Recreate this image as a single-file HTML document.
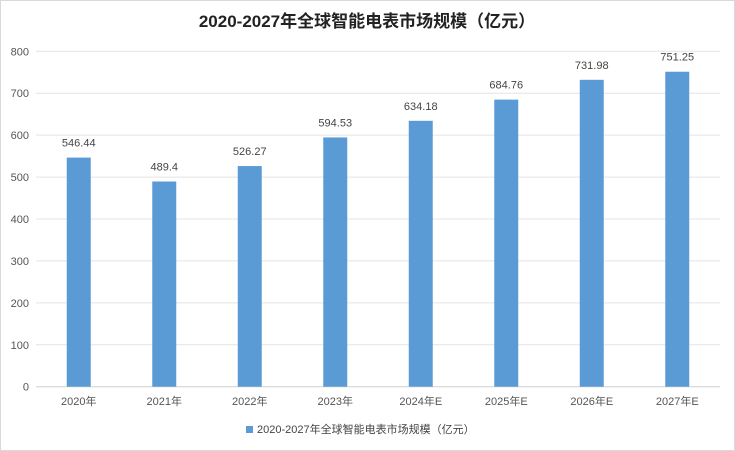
<!DOCTYPE html>
<html><head><meta charset="utf-8"><style>
body{margin:0;background:#fff}
svg{display:block;font-family:"Liberation Sans","Noto Sans CJK SC",sans-serif}
</style></head><body>
<svg width="735" height="451">
<rect x="0.5" y="0.5" width="734" height="450" fill="#fff" stroke="#d9d9d9"/>
<text x="367" y="27" text-anchor="middle" font-size="17" font-weight="bold" fill="#222">2020-2027年全球智能电表市场规模（亿元）</text>
<g id="grid"></g><g id="bars"></g><g id="xl"></g>
<rect x="246" y="426" width="7" height="7" fill="#5b9bd5"/>
<text x="257" y="433" font-size="11" fill="#444">2020-2027年全球智能电表市场规模（亿元）</text>
</svg>
<script>
const categories=["2020年","2021年","2022年","2023年","2024年E","2025年E","2026年E","2027年E"];
const values=[546.44,489.4,526.27,594.53,634.18,684.76,731.98,751.25];
const labels=["546.44","489.4","526.27","594.53","634.18","684.76","731.98","751.25"];
const yTicks=[0,100,200,300,400,500,600,700,800];
const NS="http://www.w3.org/2000/svg";
const L=36,R=720,Y0=386.7,Y1=51.3,YMAX=800;
const y=v=>Y0-(v/YMAX)*(Y0-Y1);
const bw=(R-L)/categories.length;
const x=i=>L+bw*(i+0.5);
function mk(t,a,p){const e=document.createElementNS(NS,t);for(const k in a)e.setAttribute(k,a[k]);p.appendChild(e);return e;}
const g=document.getElementById('grid'),b=document.getElementById('bars'),xl=document.getElementById('xl');
yTicks.forEach(t=>{
 const l=mk('line',{x1:L,x2:R,y1:y(t),y2:y(t),stroke:t===0?'#d0d0d0':'#e4e4e4','stroke-width':1},g);
 
 
 const tx=mk('text',{x:29,y:y(t)+4,'text-anchor':'end','font-size':11,fill:'#555'},g);
 tx.textContent=t;
 
 
});
values.forEach((v,i)=>{
 const r=mk('rect',{x:x(i)-12,y:y(v),width:24,height:Y0-y(v),fill:'#5b9bd5'},b);
 
 
 const t=mk('text',{x:x(i),y:y(v)-11,'text-anchor':'middle','font-size':11,fill:'#444'},b);
 t.textContent=labels[i];
 
 
 const c=mk('text',{x:x(i),y:405,'text-anchor':'middle','font-size':11,fill:'#555'},xl);
 c.textContent=categories[i];
 
 
});
</script>
</body></html>
